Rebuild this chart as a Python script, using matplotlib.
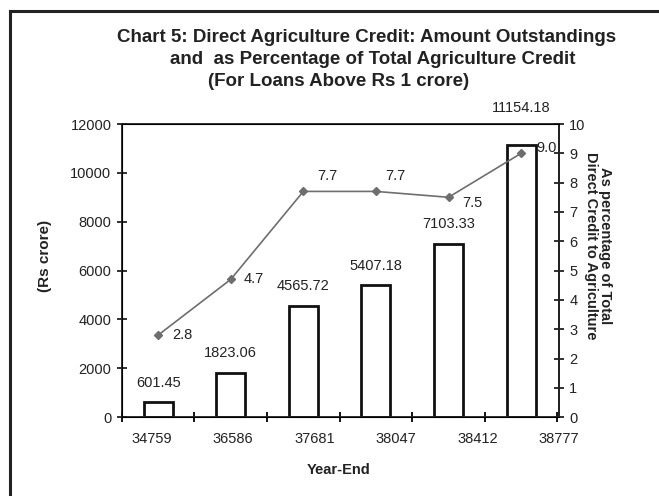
import matplotlib
matplotlib.use("Agg")
import matplotlib.pyplot as plt
from matplotlib.lines import Line2D
import numpy as np

plt.rcParams['font.family'] = ['Liberation Sans', 'DejaVu Sans']

# Year-end labels (spreadsheet date serials) and values
year_end = ["34759", "36586", "37681", "38047", "38412", "38777"]
amount_outstanding = [601.45, 1823.06, 4565.72, 5407.18, 7103.33, 11154.18]
pct_of_total = [2.8, 4.7, 7.7, 7.7, 7.5, 9.0]

TXT = '#222222'
fig = plt.figure(figsize=(6.59, 4.96), dpi=100)
ax = fig.add_axes([0.185, 0.159, 0.663, 0.591])

x = np.arange(len(amount_outstanding))
ax.bar(x, amount_outstanding, width=0.4, facecolor='white', edgecolor='#111111',
       linewidth=2.0, zorder=2)
# value labels above bars (offset in points)
bar_label_dy = [9, 9, 9, 9, 9, 21]
for xi, v, dy in zip(x, amount_outstanding, bar_label_dy):
    ax.annotate(f"{v:.2f}", (xi, v), xytext=(0, dy), textcoords='offset points',
                ha='center', va='bottom', fontsize=10.5, color=TXT,
                annotation_clip=False)

ax.set_xlim(-0.5, len(x) - 0.5)
ax.set_ylim(0, 12000)
ax.set_yticks(np.arange(0, 12001, 2000))
ax.set_xticks(np.arange(-0.5, len(x), 1.0))
ax.set_xticklabels([])
ax.set_xticks(np.linspace(-0.09, 5.52, len(year_end)), minor=True)
ax.set_xticklabels(year_end, minor=True)
ax.tick_params(axis='x', which='minor', length=0, pad=11, labelsize=10.5, colors=TXT)
ax.tick_params(axis='x', which='major', direction='inout', length=7, width=1.3)
ax.tick_params(axis='y', direction='inout', length=7, width=1.3, labelsize=10.5,
               colors=TXT, pad=4)
for s in ax.spines.values():
    s.set_linewidth(1.3)
    s.set_color(TXT)

ax.set_ylabel("(Rs crore)", fontsize=11, fontweight='bold', color=TXT)
ax.yaxis.set_label_coords(-0.16, 0.55)
ax.set_xlabel("Year-End", fontsize=10.5, fontweight='bold', color=TXT)
ax.xaxis.set_label_coords(0.495, -0.155)

ax2 = ax.twinx()
ax2.set_ylim(0, 10)
ax2.set_yticks(np.arange(0, 11, 1))
ax2.tick_params(axis='y', direction='inout', length=7, width=1.3, labelsize=10.5,
                colors=TXT, pad=4)
ax2.spines['right'].set_linewidth(1.3)
ax2.spines['right'].set_color(TXT)
ax2.plot(x, pct_of_total, color='#6e6e6e', linewidth=1.2, marker='D',
         markersize=4, markerfacecolor='#6e6e6e', markeredgecolor='#6e6e6e', zorder=3)

# line value labels (offset in points from each marker)
pct_label_off = [(10, 0), (9, 0), (10, 11), (7, 11), (10, -4), (11, 4)]
for xi, v, (dx, dy) in zip(x, pct_of_total, pct_label_off):
    ax2.annotate(f"{v:.1f}", (xi, v), xytext=(dx, dy), textcoords='offset points',
                 ha='left', va='center', fontsize=10.5, color=TXT,
                 annotation_clip=False)

ax2.set_ylabel("As percentage of Total\nDirect Credit to Agriculture", fontsize=10.5,
               fontweight='bold', rotation=-90, linespacing=1.0, color=TXT,
               va='center', ha='center')
ax2.yaxis.set_label_coords(1.09, 0.585)

fig.text(117 / 659, 1 - 37 / 496, "Chart 5: Direct Agriculture Credit: Amount Outstandings",
         ha='left', va='center', fontsize=13.5, fontweight='bold', color=TXT)
fig.text(170 / 659, 1 - 59.5 / 496, "and  as Percentage of Total Agriculture Credit",
         ha='left', va='center', fontsize=13.5, fontweight='bold', color=TXT)
fig.text(208 / 659, 1 - 82 / 496, "(For Loans Above Rs 1 crore)",
         ha='left', va='center', fontsize=13.5, fontweight='bold', color=TXT)

# frame around the chart area
fig.add_artist(Line2D([0.015, 1.0], [0.977, 0.977], transform=fig.transFigure,
                      color='#222222', linewidth=2.2))
fig.add_artist(Line2D([0.015, 0.015], [0.0, 0.977], transform=fig.transFigure,
                      color='#222222', linewidth=2.2))

fig.savefig("out.png", dpi=100)
